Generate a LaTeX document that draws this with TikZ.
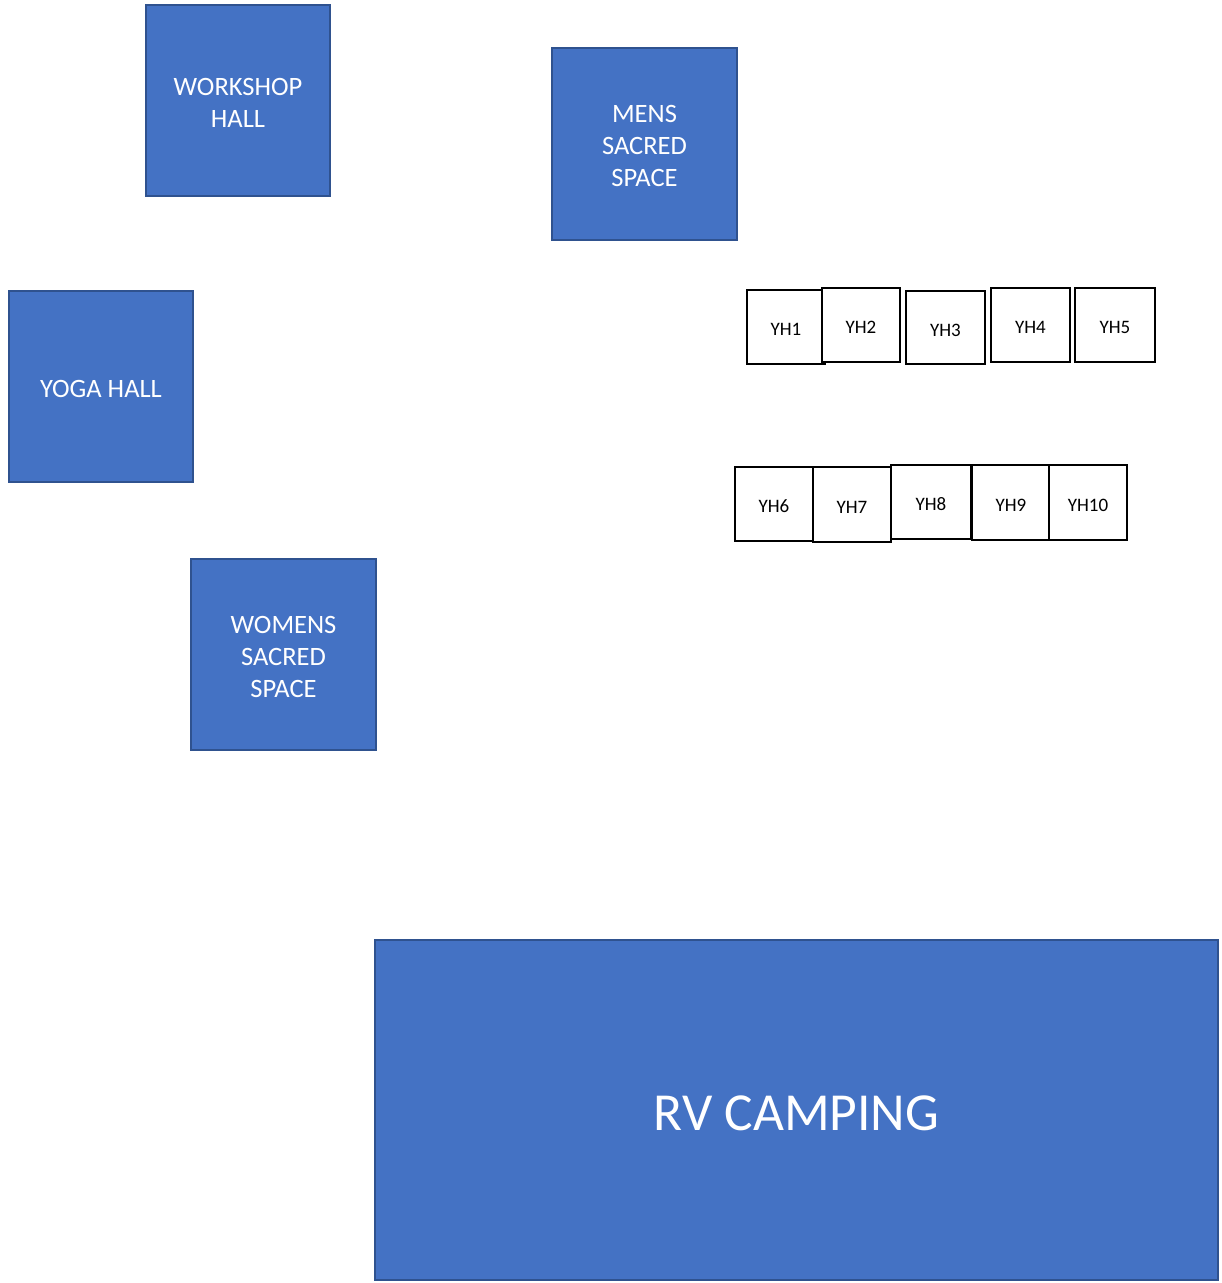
\documentclass[tikz,border=0pt]{standalone}
\usepackage{fontspec}
\setmainfont{Carlito}
\definecolor{boxblue}{HTML}{4472C4}
\definecolor{boxedge}{HTML}{2F528F}
\tikzset{
  bluebox/.style={rectangle, fill=boxblue, draw=boxedge, line width=2pt, inner sep=0pt},
  bluetext/.style={text=white, align=center, inner sep=0pt, yshift=-2pt, font=\fontsize{26.5}{32}\selectfont},
  yhbox/.style={rectangle, fill=white, draw=black, line width=2.5pt, inner sep=0pt},
  yhtext/.style={inner sep=0pt, yshift=-2.5pt, font=\fontsize{19}{22}\selectfont},
}
\begin{document}
\begin{tikzpicture}[x=1pt,y=-1pt]
\useasboundingbox (0,0) rectangle (1222,1283);
\node[bluebox, minimum width=184pt, minimum height=191pt, label={[bluetext]center:{WORKSHOP\\HALL}}] (workshop) at (238,100.5) {};
\node[bluebox, minimum width=185pt, minimum height=192pt, label={[bluetext]center:{MENS\\SACRED\\SPACE}}] (mens) at (644.5,144) {};
\node[bluebox, minimum width=184pt, minimum height=191pt, label={[bluetext]center:{YOGA HALL}}] (yoga) at (101,386.5) {};
\node[bluebox, minimum width=185pt, minimum height=191pt, label={[bluetext]center:{WOMENS\\SACRED\\SPACE}}] (womens) at (283.5,654.5) {};
\node[bluebox, minimum width=843pt, minimum height=340pt, label={[bluetext, yshift=-1pt, font=\fontsize{53.5}{64}\selectfont]center:{RV CAMPING}}] (rv) at (796.5,1110) {};
% YH boxes row 1
\node[yhbox, minimum width=78pt, minimum height=74pt, label={[yhtext]center:YH1}] (yh1) at (786,327) {};
\node[yhbox, minimum width=78pt, minimum height=74pt, label={[yhtext]center:YH2}] (yh2) at (861,325) {};
\node[yhbox, minimum width=79pt, minimum height=73pt, label={[yhtext]center:YH3}] (yh3) at (945.5,327.5) {};
\node[yhbox, minimum width=79pt, minimum height=74pt, label={[yhtext]center:YH4}] (yh4) at (1030.5,325) {};
\node[yhbox, minimum width=80pt, minimum height=74pt, label={[yhtext]center:YH5}] (yh5) at (1115,325) {};
% YH boxes row 2
\node[yhbox, minimum width=78pt, minimum height=74pt, label={[yhtext]center:YH6}] (yh6) at (774,504) {};
\node[yhbox, minimum width=78pt, minimum height=75pt, label={[yhtext]center:YH7}] (yh7) at (852,504.5) {};
\node[yhbox, minimum width=80pt, minimum height=74pt, label={[yhtext]center:YH8}] (yh8) at (931,502) {};
\node[yhbox, minimum width=78pt, minimum height=75pt, label={[yhtext]center:YH9}] (yh9) at (1011,502.5) {};
\node[yhbox, minimum width=78pt, minimum height=75pt, label={[yhtext]center:YH10}] (yh10) at (1088,502.5) {};
\end{tikzpicture}
\end{document}
